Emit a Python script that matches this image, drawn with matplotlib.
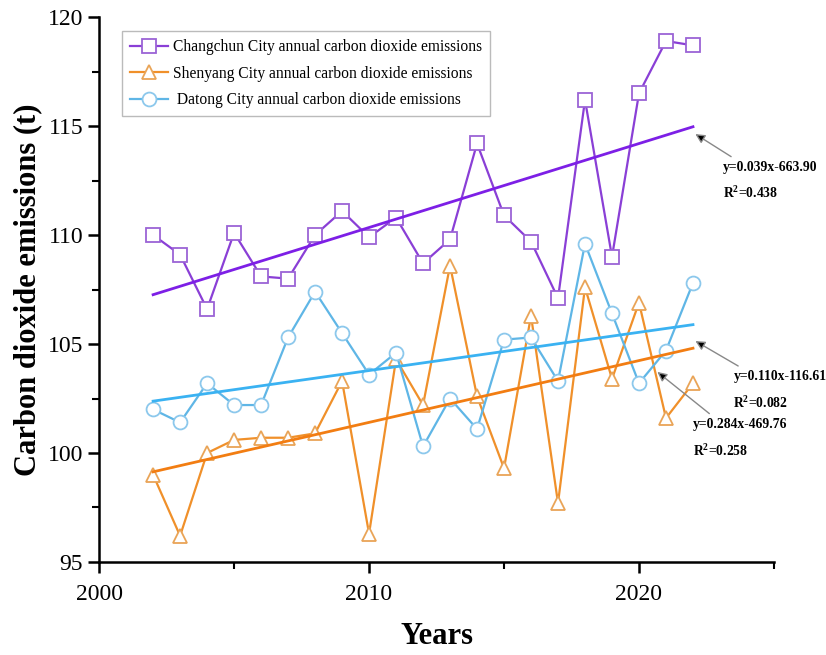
import numpy as np
import matplotlib
matplotlib.use('Agg')
from matplotlib import pyplot as plt
from matplotlib.ticker import MultipleLocator

years = list(range(2002, 2023))

changchun = [110.0, 109.1, 106.6, 110.1, 108.1, 108.0, 110.0, 111.1, 109.9, 110.8,
             108.7, 109.8, 114.2, 110.9, 109.7, 107.1, 116.2, 109.0, 116.5, 118.9, 118.7]
shenyang = [99.0, 96.2, 100.0, 100.6, 100.7, 100.7, 100.9, 103.3, 96.3, 104.3,
            102.2, 108.6, 102.6, 99.3, 106.3, 97.7, 107.6, 103.4, 106.9, 101.6, 103.2]
datong = [102.0, 101.4, 103.2, 102.2, 102.2, 105.3, 107.4, 105.5, 103.6, 104.6,
          100.3, 102.5, 101.1, 105.2, 105.3, 103.3, 109.6, 106.4, 103.2, 104.7, 107.8]

labels = ['Changchun City annual carbon dioxide emissions',
          'Shenyang City annual carbon dioxide emissions',
          ' Datong City annual carbon dioxide emissions']
fit_text = ['y=0.039x-663.90\nR$^{\\mathbf{2}}$=0.438',
            'y=0.284x-469.76\nR$^{\\mathbf{2}}$=0.258',
            'y=0.110x-116.61\nR$^{\\mathbf{2}}$=0.082']

plt.rcParams['font.family'] = ['Liberation Serif', 'DejaVu Serif']
plt.rcParams['mathtext.fontset'] = 'custom'
plt.rcParams['mathtext.rm'] = 'Liberation Serif:bold'
plt.rcParams['mathtext.bf'] = 'Liberation Serif:bold'

fig = plt.figure(figsize=(8.26, 6.55), dpi=100)
ax = fig.add_axes([0.12, 0.142, 0.817, 0.832])

series = [
    (changchun, 's', '#8a3fd6', '#9b63d6', '#7d1fe6'),
    (shenyang, '^', '#f0902a', '#e9a457', '#f27d12'),
    (datong, 'o', '#5fb6e6', '#8cc8ec', '#3ab2f2'),
]
x = np.array(years)
for (vals, mk, lc, mc, tc), lab in zip(series, labels):
    ax.plot(years, vals, color=lc, lw=1.6, marker=mk, ms=10, mfc='white',
            mec=mc, mew=1.3, label=lab, zorder=3)
    k, b = np.polyfit(x, vals, 1)
    ax.plot(x, k * x + b, color=tc, lw=2.0, zorder=4)

# equation labels with arrows pointing at the trend lines
ann = dict(arrowprops=dict(arrowstyle='-|>', color='#888888', lw=1.0,
                           mutation_scale=14, fc='black', ec='#888888'),
           fontsize=9.8, fontweight='bold', va='top', ha='left', linespacing=1.8)
ax.annotate(fit_text[0], xy=(2022.0, 114.7), xytext=(2023.1, 113.4), **ann)
ax.annotate(fit_text[2], xy=(2022.0, 105.2), xytext=(2023.5, 103.8), **ann)
ax.annotate(fit_text[1], xy=(2020.6, 103.8), xytext=(2022.0, 101.6), **ann)

ax.set_xlim(2000, 2025)
ax.set_ylim(95, 120)
ax.xaxis.set_major_locator(MultipleLocator(10))
ax.xaxis.set_minor_locator(MultipleLocator(5))
ax.yaxis.set_major_locator(MultipleLocator(5))
ax.yaxis.set_minor_locator(MultipleLocator(2.5))
ax.tick_params(which='major', direction='out', length=8, width=1.8, labelsize=17)
ax.tick_params(which='minor', direction='out', length=5, width=1.5)
for side in ['top', 'right']:
    ax.spines[side].set_visible(False)
for side in ['left', 'bottom']:
    ax.spines[side].set_linewidth(1.8)
ax.tick_params(axis='x', pad=8)

ax.set_xlabel('Years', fontsize=22, fontweight='bold', labelpad=12)
ax.set_ylabel('Carbon dioxide emissions (t)', fontsize=22, fontweight='bold', labelpad=4)

leg = ax.legend(loc='upper left', bbox_to_anchor=(0.022, 0.988), fontsize=11.2,
                frameon=True, fancybox=False, edgecolor='#aaaaaa',
                handlelength=2.5, borderpad=0.5, labelspacing=0.68, handletextpad=0.3)
leg.get_frame().set_linewidth(1.0)

fig.savefig('out.png', dpi=100)
